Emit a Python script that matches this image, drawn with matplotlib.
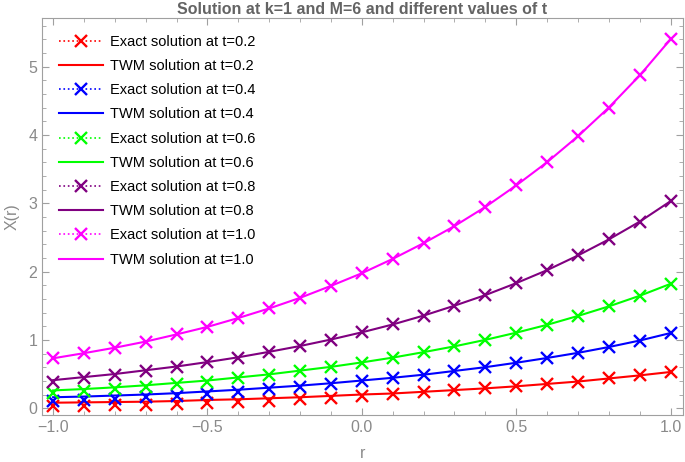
import matplotlib.pyplot as plt
from matplotlib.lines import Line2D
from matplotlib.ticker import MultipleLocator

plt.rcParams['font.family'] = ['Liberation Sans', 'DejaVu Sans']

r = [-1.0, -0.9, -0.8, -0.7, -0.6, -0.5, -0.4, -0.3, -0.2, -0.1, 0.0,
     0.1, 0.2, 0.3, 0.4, 0.5, 0.6, 0.7, 0.8, 0.9, 1.0]

t_labels = ['0.2', '0.4', '0.6', '0.8', '1.0']

# TWM solution (solid lines)
twm_02 = [0.08, 0.085, 0.09, 0.095, 0.105, 0.12, 0.13, 0.145, 0.16, 0.18, 0.20,
          0.215, 0.24, 0.265, 0.29, 0.32, 0.355, 0.39, 0.435, 0.48, 0.53]
twm_04 = [0.16, 0.17, 0.185, 0.20, 0.22, 0.245, 0.27, 0.30, 0.33, 0.365, 0.405,
          0.445, 0.49, 0.545, 0.60, 0.665, 0.735, 0.81, 0.895, 0.99, 1.10]
twm_06 = [0.26, 0.28, 0.305, 0.335, 0.37, 0.405, 0.45, 0.495, 0.55, 0.605, 0.67,
          0.74, 0.82, 0.905, 1.0, 1.105, 1.22, 1.35, 1.49, 1.645, 1.82]
twm_08 = [0.41, 0.455, 0.50, 0.555, 0.61, 0.675, 0.745, 0.825, 0.91, 1.005, 1.11,
          1.225, 1.355, 1.50, 1.655, 1.83, 2.02, 2.235, 2.47, 2.73, 3.03]
twm_10 = [0.73, 0.805, 0.885, 0.975, 1.08, 1.19, 1.32, 1.46, 1.615, 1.79, 1.975,
          2.185, 2.415, 2.665, 2.945, 3.26, 3.60, 3.98, 4.40, 4.87, 5.40]

# Exact solution (x markers)
ex_02 = [0.03, 0.035, 0.045, 0.05, 0.06, 0.08, 0.095, 0.11, 0.13, 0.155, 0.18,
         0.205, 0.23, 0.26, 0.29, 0.32, 0.355, 0.39, 0.435, 0.48, 0.53]
ex_04 = [0.10, 0.12, 0.14, 0.16, 0.185, 0.21, 0.24, 0.275, 0.31, 0.35, 0.395,
         0.445, 0.49, 0.545, 0.60, 0.665, 0.735, 0.81, 0.895, 0.99, 1.10]
ex_06 = [0.22, 0.245, 0.275, 0.31, 0.35, 0.39, 0.435, 0.485, 0.54, 0.60, 0.665,
         0.74, 0.82, 0.905, 1.0, 1.105, 1.22, 1.35, 1.49, 1.645, 1.82]
ex_08 = [0.39, 0.44, 0.49, 0.545, 0.605, 0.67, 0.74, 0.825, 0.91, 1.005, 1.11,
         1.225, 1.355, 1.50, 1.655, 1.83, 2.02, 2.235, 2.47, 2.73, 3.03]
ex_10 = [0.73, 0.805, 0.885, 0.975, 1.08, 1.19, 1.32, 1.46, 1.615, 1.79, 1.975,
         2.185, 2.415, 2.665, 2.945, 3.26, 3.60, 3.98, 4.40, 4.87, 5.40]

twm = [twm_02, twm_04, twm_06, twm_08, twm_10]
exact = [ex_02, ex_04, ex_06, ex_08, ex_10]
colors = ['#ff0000', '#0000ff', '#00ff00', '#800080', '#ff00ff']

fig = plt.figure(figsize=(6.85, 4.62), dpi=100)
ax = fig.add_axes([0.0613, 0.1017, 0.9357, 0.8593])

handles = []
labels = []
for tl, yt, ye, c in zip(t_labels, twm, exact, colors):
    ax.plot(r, yt, color=c, lw=1.5, zorder=2)
    ax.plot(r, ye, ls='none', marker='x', ms=9, mew=1.7, color=c, zorder=3)
    handles.append(Line2D([], [], color=c, ls=':', lw=1.2, marker='x', ms=9, mew=1.7))
    handles.append(Line2D([], [], color=c, lw=1.5))
    labels.append('Exact solution at t=' + tl)
    labels.append('TWM solution at t=' + tl)

ax.legend(handles, labels, loc='upper left', frameon=False, numpoints=1,
          fontsize=10.5, handlelength=3.0, labelspacing=0.7,
          borderaxespad=0.75, borderpad=0.4, handletextpad=0.5)

ax.set_xlim(-1.036, 1.04)
ax.set_ylim(-0.1, 5.71)
ax.xaxis.set_major_locator(MultipleLocator(0.5))
ax.xaxis.set_minor_locator(MultipleLocator(0.1))
ax.yaxis.set_major_locator(MultipleLocator(1))
ax.yaxis.set_minor_locator(MultipleLocator(0.2))
ax.xaxis.set_major_formatter(plt.FuncFormatter(lambda v, p: f'{v:.1f}'.replace('-', '\u2212')))

gray = '#8a8a8a'
for s in ax.spines.values():
    s.set_color('#a0a0a0')
ax.tick_params(which='both', direction='in', top=True, right=True,
               color='#a0a0a0', labelcolor=gray, labelsize=11.5)
ax.tick_params(which='major', length=5)
ax.tick_params(which='minor', length=3)

ax.set_xlabel('r', color=gray, fontsize=11.5, labelpad=8)
ax.set_ylabel('X(r)', color=gray, fontsize=11.5, labelpad=6)
ax.set_title('Solution at k=1 and M=6 and different values of t',
             color='#646464', fontsize=11.5, fontweight='bold', pad=3)

fig.savefig('out.png', dpi=100)
